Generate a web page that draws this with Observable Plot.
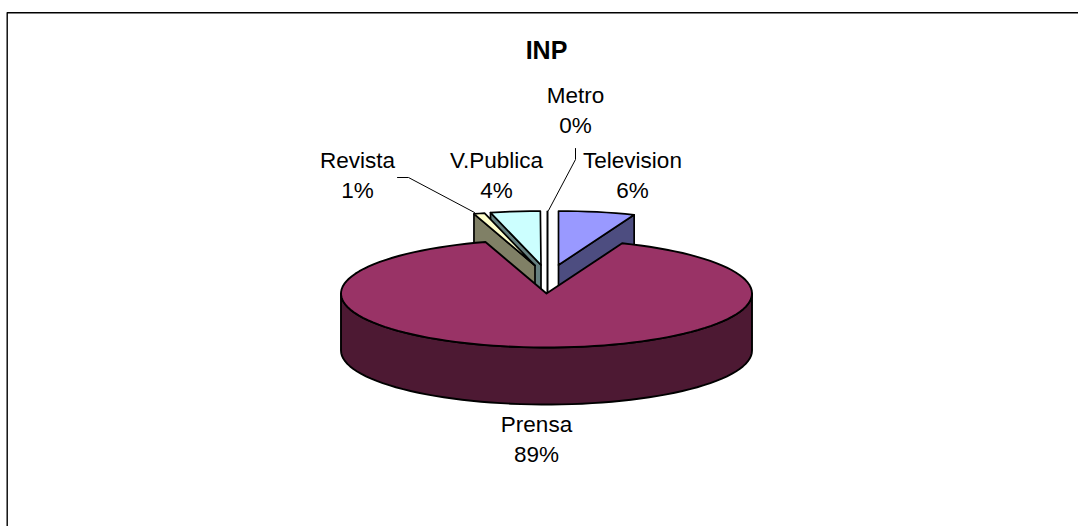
<!DOCTYPE html>
<html>
<head>
<meta charset="utf-8">
<script src="https://cdn.jsdelivr.net/npm/d3@7"></script>
<script src="https://cdn.jsdelivr.net/npm/@observablehq/plot@0.6"></script>
<style>
html,body{margin:0;padding:0;background:#fff}
svg{display:block}
</style>
</head>
<body>
<div id="chart"></div>
<script>
const chartTitle = "INP";
const categories = ["Television", "Prensa", "Revista", "V.Publica", "Metro"];
const shares = [6.0, 89.2, 0.85, 3.9, 0.05];
const percentLabels = ["6%", "89%", "1%", "4%", "0%"];

const topColors = ["#9999FF", "#993366", "#FFFFCC", "#CCFFFF", "#FFFFFF"];
const wallColors = ["#4D4D80", "#4D1933", "#808066", "#668080", "#808080"];
const labelX = [632, 536, 357, 496, 575];
const labelY = [172.5, 436.5, 172.5, 172.5, 107.5];
const centers = [[558, 264.5], [546, 293], [534.5, 265], [540.5, 264.5], [547, 265]];
const RX = 205.5, RY = 54, DEPTH = 57;

let acc = 0;
const slices = categories.map((name, i) => {
  const a0 = acc / 100 * 2 * Math.PI;
  acc += shares[i];
  const a1 = acc / 100 * 2 * Math.PI;
  return {name, i, a0, a1, cx: centers[i][0], cy: centers[i][1]};
});
const rim = (s, a, dy = 0) => ({x: s.cx + RX * Math.sin(a), y: s.cy - RY * Math.cos(a) + dy});
function arc(s, from, to, dy = 0) {
  const n = Math.max(2, Math.ceil(Math.abs(to - from) / 0.05));
  return d3.range(n + 1).map(k => rim(s, from + (to - from) * k / n, dy));
}
const apex = (s, dy = 0) => ({x: s.cx, y: s.cy + dy});
const topFace = s => [apex(s), ...arc(s, s.a0, s.a1)];
const cutWall = (s, a) => [apex(s), rim(s, a), rim(s, a, DEPTH), apex(s, DEPTH)];
const rimWall = (s, from, to) => [...arc(s, from, to), ...arc(s, to, from, DEPTH)];

const [tv, prensa, revista, vpub, metro] = slices;
const poly = (pts, fill, strokeWidth = 1.7) => Plot.line(pts, {x: "x", y: "y", fill, stroke: "#000", strokeWidth, curve: "linear-closed"});

const marks = [
  // frame: left and top edges only, running off the page
  Plot.line([{x:6.7,y:526},{x:6.7,y:12.2},{x:1078,y:12.2}], {x:"x",y:"y",stroke:"#000",strokeWidth:1.4}),
  // V.Publica
  poly(cutWall(vpub, vpub.a0), wallColors[3]),
  poly(topFace(vpub), topColors[3]),
  // Revista
  poly(cutWall(revista, revista.a0), wallColors[2]),
  poly(topFace(revista), topColors[2]),
  // Metro
  Plot.line([rim(metro, 0), apex(metro, 27)], {x:"x",y:"y",stroke:"#000",strokeWidth:2}),
  // Television
  poly(cutWall(tv, tv.a1), wallColors[0]),
  poly(topFace(tv), topColors[0]),
  // Prensa
  poly(rimWall(prensa, Math.PI / 2, Math.PI * 1.5), wallColors[1], 1.9),
  poly(topFace(prensa), topColors[1], 1.9),
  // leader lines
  Plot.line([{x:397,y:177},{x:408,y:177},{x:474,y:212}], {x:"x",y:"y",stroke:"#000",strokeWidth:1}),
  Plot.line([{x:575,y:148},{x:575,y:159},{x:548,y:210}], {x:"x",y:"y",stroke:"#000",strokeWidth:1}),
  // labels
  Plot.text(categories.map((c, i) => ({c, p: percentLabels[i], x: labelX[i], y: labelY[i]})), {
    x: "x", y: "y", text: d => d.c + "\n" + d.p, fontSize: 22.5, lineHeight: 1.36, fill: "#000",
    fontFamily: "Liberation Sans", textAnchor: "middle", lineAnchor: "middle"
  }),
  Plot.text([{x: 546, y: 50}], {x: "x", y: "y", text: () => chartTitle, fontSize: 25, fontWeight: "bold", fill: "#000", fontFamily: "Liberation Sans"})
];

const chart = Plot.plot({
  width: 1078, height: 526,
  marginTop: 0, marginRight: 0, marginBottom: 0, marginLeft: 0,
  x: {domain: [0, 1078], range: [0, 1078], axis: null},
  y: {domain: [0, 526], range: [0, 526], axis: null},
  style: {background: "#fff"},
  marks
});
document.getElementById("chart").append(chart);
</script>
</body>
</html>
